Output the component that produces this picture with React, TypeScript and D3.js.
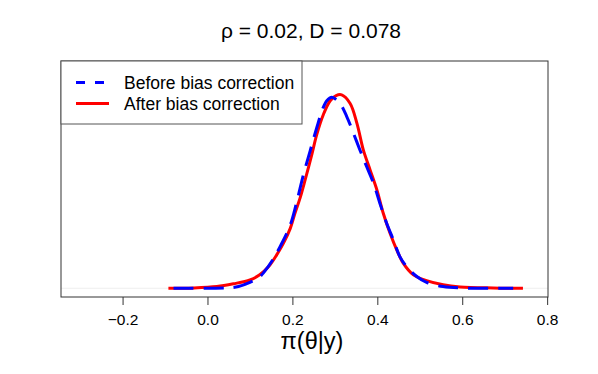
import React, { useEffect, useRef } from 'react';
import * as d3 from 'd3';

// density estimates: theta values and densities
const beforeX = [-0.080, 0.046, 0.073, 0.100, 0.120, 0.132, 0.155, 0.171, 0.195, 0.210, 0.226, 0.242, 0.257, 0.271, 0.281, 0.293, 0.312, 0.328, 0.344, 0.359, 0.375, 0.391, 0.406, 0.422, 0.438, 0.453, 0.469, 0.493, 0.516, 0.555, 0.595, 0.720];
const beforeY = [0.0, 0.01, 0.05, 0.17, 0.30, 0.45, 0.85, 1.21, 1.84, 2.50, 3.30, 4.00, 4.65, 5.20, 5.45, 5.55, 5.37, 4.99, 4.50, 4.02, 3.53, 3.05, 2.47, 1.89, 1.40, 0.92, 0.63, 0.34, 0.17, 0.05, 0.01, 0.0];

const afterX = [-0.092, -0.033, 0.022, 0.061, 0.100, 0.123, 0.144, 0.163, 0.179, 0.195, 0.206, 0.218, 0.230, 0.246, 0.257, 0.273, 0.289, 0.303, 0.316, 0.336, 0.352, 0.367, 0.383, 0.399, 0.414, 0.430, 0.446, 0.461, 0.485, 0.516, 0.555, 0.595, 0.673, 0.743];
const afterY = [0.0, 0.01, 0.05, 0.13, 0.24, 0.39, 0.63, 0.97, 1.31, 1.74, 2.18, 2.62, 3.15, 3.90, 4.45, 5.05, 5.45, 5.60, 5.62, 5.37, 4.79, 4.02, 3.44, 2.86, 2.18, 1.60, 1.11, 0.73, 0.39, 0.22, 0.10, 0.04, 0.01, 0.0];

const xTicks = [-0.2, 0.0, 0.2, 0.4, 0.6, 0.8];
const legendLabels = ['Before bias correction', 'After bias correction'];
const titleText = 'ρ = 0.02, D = 0.078';
const xLabel = 'π(θ|y)';

const W = 598;
const H = 374;
const font = '"Liberation Sans", Arial, Helvetica, sans-serif';

const App = () => {
  const svgRef = useRef<SVGSVGElement>(null);

  useEffect(() => {
    if (!svgRef.current) return;
    const svg = d3.select(svgRef.current);
    svg.selectAll('*').remove();

    const plot = { left: 61, right: 548, top: 61, bottom: 297 };
    const yMax = 6.35;

    const x = d3.scaleLinear().domain([-0.345, 0.802]).range([plot.left, plot.right]);
    const y = d3.scaleLinear().domain([-0.04 * yMax, 1.04 * yMax]).range([plot.bottom, plot.top]);

    // faint zero line
    svg.append('line')
      .attr('x1', plot.left).attr('x2', plot.right)
      .attr('y1', y(0)).attr('y2', y(0))
      .attr('stroke', '#eeeeee').attr('stroke-width', 1);

    const line = d3.line<[number, number]>()
      .x(d => x(d[0]))
      .y(d => y(d[1]))
      .curve(d3.curveCatmullRom.alpha(0.5));

    const before = beforeX.map((v, i) => [v, beforeY[i]] as [number, number]);
    const after = afterX.map((v, i) => [v, afterY[i]] as [number, number]);

    svg.append('path')
      .datum(after)
      .attr('d', line)
      .attr('fill', 'none')
      .attr('stroke', '#ff0000')
      .attr('stroke-width', 3)
      .attr('stroke-linejoin', 'round');

    svg.append('path')
      .datum(before)
      .attr('d', line)
      .attr('fill', 'none')
      .attr('stroke', '#0000ff')
      .attr('stroke-width', 3)
      .attr('stroke-dasharray', '20,10')
      .attr('stroke-linejoin', 'round');

    // plot box
    svg.append('rect')
      .attr('x', plot.left).attr('y', plot.top)
      .attr('width', plot.right - plot.left).attr('height', plot.bottom - plot.top)
      .attr('fill', 'none').attr('stroke', '#333333').attr('stroke-width', 1);

    // x axis
    const axis = svg.append('g')
      .attr('transform', `translate(0,${plot.bottom})`)
      .call(d3.axisBottom(x).tickValues(xTicks).tickSizeInner(8).tickSizeOuter(0).tickPadding(9)
        .tickFormat(d => d3.format('.1f')(d as number).replace('-', '\u2212')));
    axis.select('.domain').remove();
    axis.selectAll('.tick line').attr('stroke', '#333333');
    axis.selectAll('.tick text')
      .attr('fill', '#000')
      .style('font-family', font)
      .style('font-size', '15.5px');

    // legend
    const lg = svg.append('g');
    lg.append('rect')
      .attr('x', plot.left).attr('y', plot.top)
      .attr('width', 241).attr('height', 63)
      .attr('fill', '#fff').attr('stroke', '#555555').attr('stroke-width', 1);
    const styles = [
      { color: '#0000ff', dash: '9,10' },
      { color: '#ff0000', dash: null },
    ];
    legendLabels.forEach((lab, i) => {
      const ly = 82.5 + i * 21;
      const seg = lg.append('line')
        .attr('x1', 76).attr('x2', 109)
        .attr('y1', ly).attr('y2', ly)
        .attr('stroke', styles[i].color)
        .attr('stroke-width', 3);
      if (styles[i].dash) seg.attr('stroke-dasharray', styles[i].dash);
      lg.append('text')
        .attr('x', 124).attr('y', ly + 6.5)
        .style('font-family', font)
        .style('font-size', '17.5px')
        .text(lab);
    });

    // title
    svg.append('text')
      .attr('x', 311).attr('y', 37.5)
      .attr('text-anchor', 'middle')
      .style('font-family', font)
      .style('font-size', '21px')
      .text(titleText);

    // x label
    svg.append('text')
      .attr('x', 312).attr('y', 349)
      .attr('text-anchor', 'middle')
      .style('font-family', font)
      .style('font-size', '23.5px')
      .text(xLabel);
  }, []);

  return (
    <svg
      ref={svgRef}
      width={W}
      height={H}
      style={{ position: 'absolute', left: 0, top: 0, background: '#fff' }}
    />
  );
};

export default App;
